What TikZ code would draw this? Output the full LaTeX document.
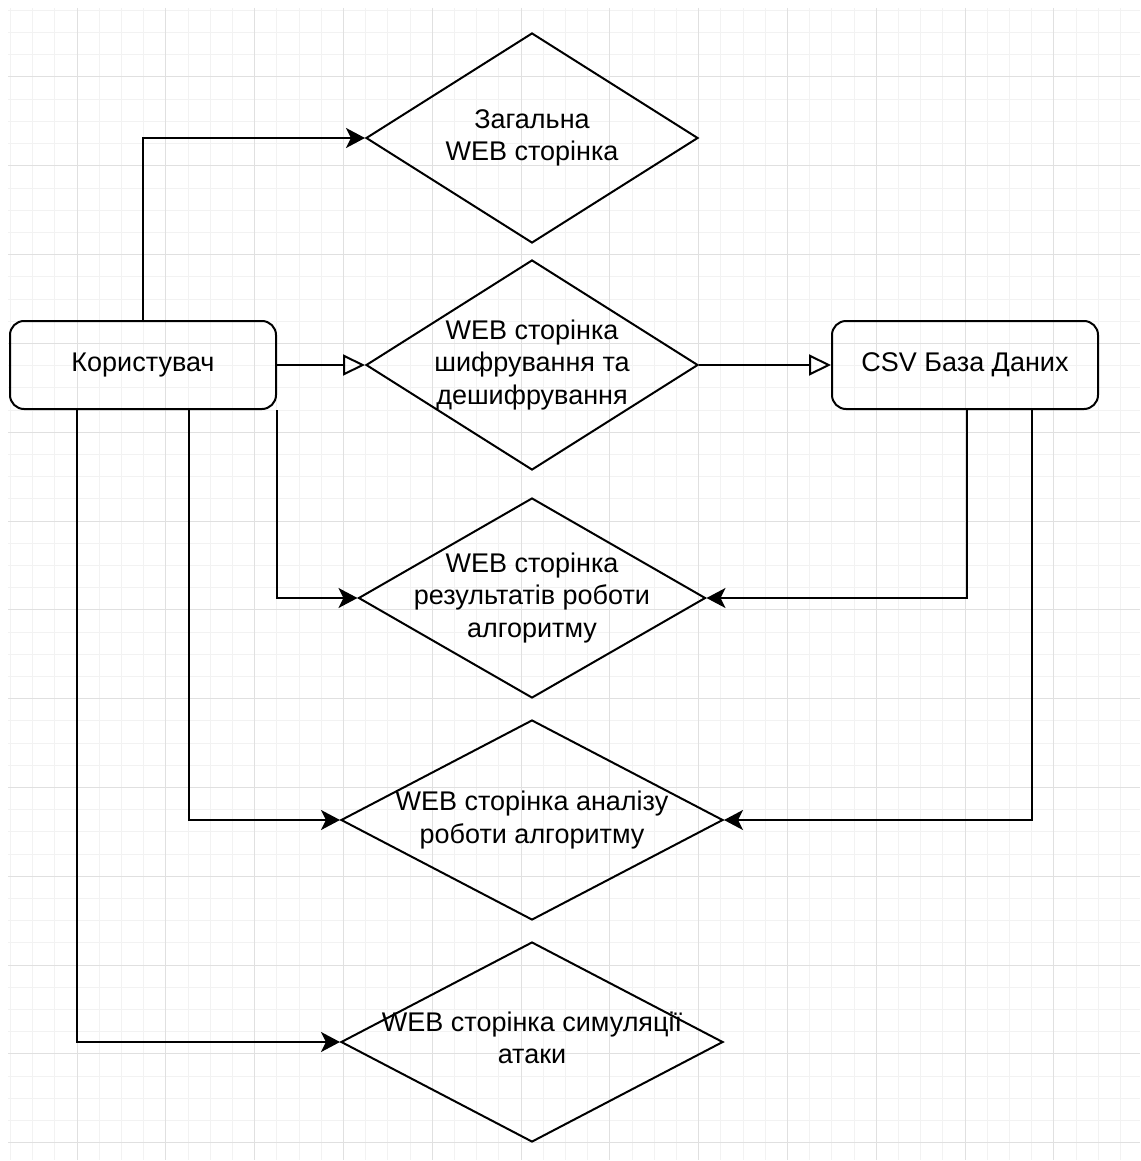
\documentclass[tikz,border=0pt]{standalone}
\usepackage{fontspec}
\setmainfont{Liberation Sans}
\usetikzlibrary{arrows.meta,shapes.geometric}

\begin{document}
\begin{tikzpicture}[
    x=0.5pt, y=-0.5pt,
    every node/.style={font=\fontsize{13.5}{16.2}\selectfont},
    ubox/.style={rectangle, rounded corners=7pt, draw, line width=1pt,
                 minimum width=133pt, minimum height=44pt, inner sep=0pt},
    wpage/.style={diamond, draw, line width=1pt, inner sep=0pt},
    farr/.style={-{Stealth[length=9.5pt, width=10pt, inset=2.5pt]}, line width=1pt},
    oarr/.style={-{Triangle[open, length=11pt, width=10.5pt]}, line width=1pt},
    gminor/.style={draw=black!5, line width=0.5pt},
    gmajor/.style={draw=black!12, line width=0.5pt},
]
    \useasboundingbox (0,0) rectangle (1140,1161);
    %% background grid
    \begin{scope}
        \clip (8,8) rectangle (1140,1160);
        \foreach \i in {0,...,51} {
            \draw[gminor] (10.4+22.2*\i,8) -- (10.4+22.2*\i,1160);
            \draw[gminor] (8,10.4+22.2*\i) -- (1140,10.4+22.2*\i);
        }
        \foreach \k in {0,...,12} {
            \draw[gmajor] (77+88.8*\k,8) -- (77+88.8*\k,1160);
            \draw[gmajor] (8,77+88.8*\k) -- (1140,77+88.8*\k);
        }
    \end{scope}
    %% actors
    \node[ubox] (usr) at (143,365) {Користувач};
    \node[ubox] (csv) at (965,365) {CSV База Даних};
    %% web pages
    \node[wpage, minimum width=166pt, minimum height=105pt,
          label={[align=center]center:Загальна\\WEB сторінка}] (gen) at (532,138) {};
    \node[wpage, minimum width=166pt, minimum height=105pt,
          label={[align=center]center:WEB сторінка\\шифрування та\\дешифрування}] (enc) at (532,365) {};
    \node[wpage, minimum width=173.5pt, minimum height=100pt,
          label={[align=center]center:WEB сторінка\\результатів роботи\\алгоритму}] (res) at (532,598) {};
    \node[wpage, minimum width=191pt, minimum height=100pt,
          label={[align=center]center:WEB сторінка аналізу\\роботи алгоритму}] (ana) at (532,820) {};
    \node[wpage, minimum width=191pt, minimum height=100pt,
          label={[align=center, yshift=2pt]center:WEB сторінка симуляції\\атаки}] (sim) at (532,1042) {};
    %% user links
    \draw[farr] (usr.north) |- (gen.west);
    \draw[oarr] (usr.east) -- (enc.west);
    \draw[oarr] (enc.east) -- (csv.west);
    \draw[farr] (usr.south east) |- (res.west);
    \draw[farr] ([xshift=23pt]usr.south) |- (ana.west);
    \draw[farr] ([xshift=-33pt]usr.south) |- (sim.west);
    %% database links
    \draw[farr] ([xshift=1pt]csv.south) |- (res.east);
    \draw[farr] ([xshift=33.5pt]csv.south) |- (ana.east);
\end{tikzpicture}
\end{document}
